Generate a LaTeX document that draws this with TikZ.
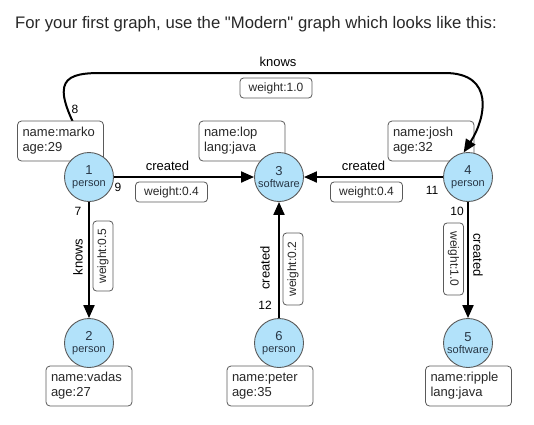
\documentclass[tikz,border=0pt]{standalone}
\usepackage{fontspec}
\setmainfont{Liberation Sans}[Ligatures=TeXOff]
\usetikzlibrary{arrows.meta}
\pgfdeclarelayer{back}
\pgfdeclarelayer{edges}
\pgfsetlayers{back,edges,main}
\definecolor{nodefill}{RGB}{178,226,250}
\definecolor{nodetext}{RGB}{40,55,70}
\definecolor{boxline}{RGB}{90,90,90}
\definecolor{titletext}{RGB}{40,40,40}
\begin{document}
\begin{tikzpicture}[x=1pt,y=-1pt,
 vertex/.style={circle,draw=boxline,line width=0.9pt,fill=nodefill,minimum size=49pt,inner sep=0pt,align=center,text=nodetext},
 prop/.style={draw=boxline,line width=0.8pt,rounded corners=4pt,fill=white,minimum width=86pt,minimum height=40pt,text width=76pt,align=left,inner sep=0pt,font=\fontsize{13}{15}\selectfont,text=titletext},
 wbox/.style={draw=boxline,line width=0.8pt,rounded corners=3.5pt,fill=white,minimum width=72pt,minimum height=20pt,inner sep=0pt,font=\fontsize{12}{14}\selectfont,text=titletext},
 elabel/.style={font=\fontsize{13}{15}\selectfont,inner sep=0pt},
 eid/.style={font=\fontsize{12}{14}\selectfont,inner sep=0pt},
 edgeline/.style={line width=2pt,-{Triangle[length=13pt,width=11pt]}}
]
\useasboundingbox (0,0) rectangle (534,424);
\node[anchor=base west,inner sep=0pt,font=\fontsize{16.7}{20}\selectfont,text=titletext] (title) at (15,28) {For your first graph, use the "Modern" graph which looks like this:};
% property boxes
\node[prop] (pmarko) at (60.5,141) {name:marko\\age:29};
\node[prop] (plop) at (242,141) {name:lop\\lang:java};
\begin{pgfonlayer}{back}
\node[prop] (pjosh) at (431,141) {name:josh\\age:32};
\end{pgfonlayer}
\node[prop] (pvadas) at (89,386) {name:vadas\\age:27};
\node[prop] (ppeter) at (270,386) {name:peter\\age:35};
\node[prop] (pripple) at (468.5,386) {name:ripple\\lang:java};
% vertices
\node[vertex] (n1) at (89,177) {{\fontsize{13}{14}\selectfont 1}\\{\fontsize{11}{13}\selectfont person}};
\node[vertex] (n3) at (279,177) {{\fontsize{13}{14}\selectfont 3}\\{\fontsize{11}{13}\selectfont software}};
\node[vertex] (n4) at (468,177) {{\fontsize{13}{14}\selectfont 4}\\{\fontsize{11}{13}\selectfont person}};
\node[vertex] (n2) at (89,343) {{\fontsize{13}{14}\selectfont 2}\\{\fontsize{11}{13}\selectfont person}};
\node[vertex] (n6) at (279,343) {{\fontsize{13}{14}\selectfont 6}\\{\fontsize{11}{13}\selectfont person}};
\node[vertex] (n5) at (468,343) {{\fontsize{13}{14}\selectfont 5}\\{\fontsize{11}{13}\selectfont software}};
% edges
\begin{pgfonlayer}{edges}
\draw[edgeline] (n1.north) .. controls (50,85) and (58,73) .. (100,73) -- (445,73) .. controls (495,73) and (486,118) .. (n4.100);
\draw[edgeline] (n1) -- (n3);
\draw[edgeline] (n4) -- (n3);
\draw[edgeline] (n1) -- (n2);
\draw[edgeline] (n6) -- (n3);
\draw[edgeline] (n4) -- (n5);
\end{pgfonlayer}
% edge labels
\node[elabel] (lknows) at (278,62) {knows};
\node[wbox] (w8) at (276,88) {weight:1.0};
\node[elabel] (lc9) at (167.5,166) {created};
\node[wbox] (w9) at (171.5,192) {weight:0.4};
\node[elabel] (lc11) at (363.5,166) {created};
\node[wbox] (w11) at (366.5,192) {weight:0.4};
\node[elabel,rotate=90] (lk7) at (78,257) {knows};
\node[wbox,rotate=90,minimum width=70pt] (w7) at (103,256) {weight:0.5};
\node[elabel,rotate=90] (lc12) at (265,268) {created};
\node[wbox,rotate=90] (w12) at (293,269) {weight:0.2};
\node[elabel,rotate=-90] (lc10) at (478,255) {created};
\node[wbox,rotate=-90] (w10) at (453.5,259) {weight:1.0};
% edge ids
\node[eid] (id8) at (75,109) {8};
\node[eid] (id9) at (118,187) {9};
\node[eid] (id7) at (78,211) {7};
\node[eid] (id11) at (432,190) {11};
\node[eid] (id10) at (457,211) {10};
\node[eid] (id12) at (265,305) {12};
\end{tikzpicture}
\end{document}
